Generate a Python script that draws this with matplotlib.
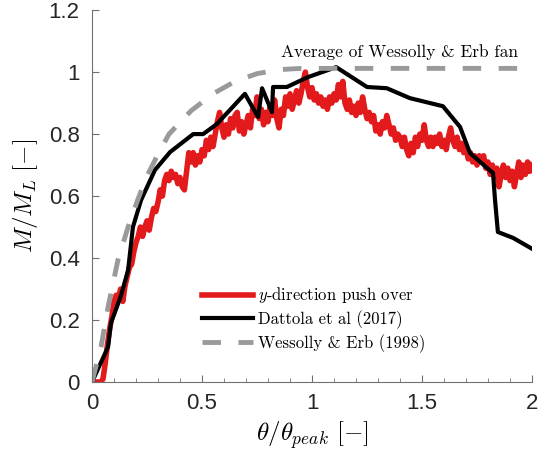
"""
Moment ratio vs rotation ratio - push over test compared with literature
"""
import numpy as np
import matplotlib
matplotlib.use('Agg')
import matplotlib.pyplot as plt
from matplotlib.ticker import MultipleLocator, FuncFormatter

plt.rcParams['mathtext.fontset'] = 'cm'
plt.rcParams['font.family'] = ['Liberation Sans', 'DejaVu Sans']

push_y = [
    0.00, 0.00, 0.00, 0.00, 0.00, 0.01, 0.06, 0.12, 0.17, 0.21,
    0.26, 0.28, 0.27, 0.30, 0.26, 0.31, 0.34, 0.37, 0.38, 0.42,
    0.45, 0.47, 0.50, 0.47, 0.50, 0.52, 0.49, 0.53, 0.56, 0.55,
    0.58, 0.62, 0.60, 0.65, 0.67, 0.65, 0.68, 0.66, 0.67, 0.64,
    0.66, 0.63, 0.62, 0.68, 0.74, 0.71, 0.74, 0.70, 0.73, 0.71,
    0.75, 0.73, 0.78, 0.75, 0.79, 0.76, 0.80, 0.84, 0.87, 0.82,
    0.79, 0.83, 0.80, 0.85, 0.82, 0.86, 0.87, 0.81, 0.84, 0.80,
    0.83, 0.86, 0.82, 0.88, 0.86, 0.92, 0.85, 0.88, 0.83, 0.87,
    0.84, 0.89, 0.86, 0.91, 0.85, 0.82, 0.88, 0.86, 0.92, 0.89,
    0.93, 0.88, 0.91, 0.94, 0.90, 0.93, 0.97, 1.00, 0.95, 0.92,
    0.95, 0.91, 0.93, 0.90, 0.92, 0.89, 0.91, 0.88, 0.92, 0.90,
    0.93, 0.91, 0.96, 0.92, 0.97, 0.90, 0.88, 0.91, 0.87, 0.89,
    0.86, 0.90, 0.87, 0.92, 0.88, 0.85, 0.87, 0.84, 0.86, 0.81,
    0.83, 0.80, 0.84, 0.82, 0.86, 0.83, 0.80, 0.82, 0.78, 0.80,
    0.79, 0.76, 0.79, 0.75, 0.73, 0.77, 0.74, 0.79, 0.76, 0.80,
    0.78, 0.83, 0.78, 0.76, 0.79, 0.76, 0.79, 0.77, 0.80, 0.76,
    0.78, 0.75, 0.79, 0.82, 0.78, 0.76, 0.79, 0.75, 0.77, 0.74,
    0.76, 0.72, 0.74, 0.71, 0.73, 0.70, 0.73, 0.71, 0.73, 0.69,
    0.71, 0.67, 0.70, 0.66, 0.69, 0.63, 0.67, 0.70, 0.66, 0.69,
    0.65, 0.68, 0.63, 0.67, 0.71, 0.66, 0.70, 0.67, 0.71, 0.68,
    0.70,
]
push_x = np.linspace(0, 2, len(push_y))

# Dattola et al (2017)
dattola_x = [0, 0.073, 0.086, 0.13, 0.164, 0.186, 0.223, 0.286, 0.355, 0.46,
             0.505, 0.567, 0.695, 0.755, 0.773, 0.818, 0.823, 0.886, 0.982, 1.11,
             1.25, 1.34, 1.445, 1.595, 1.673, 1.718, 1.823, 1.832, 1.845, 1.914, 2.0]
dattola_y = [0, 0.113, 0.19, 0.275, 0.36, 0.5, 0.587, 0.684, 0.742, 0.80,
             0.80, 0.832, 0.93, 0.855, 0.948, 0.871, 0.952, 0.952, 0.984, 1.016,
             0.952, 0.948, 0.916, 0.89, 0.823, 0.739, 0.674, 0.587, 0.484, 0.465, 0.43]

# Wessolly & Erb (1998)
wess_x = [0, 0.041, 0.073, 0.118, 0.164, 0.209, 0.25, 0.30, 0.35, 0.45,
          0.55, 0.65, 0.75, 0.85, 0.95, 2.0]
wess_y = [0, 0.113, 0.242, 0.394, 0.5, 0.59, 0.665, 0.735, 0.80, 0.875,
          0.93, 0.97, 0.995, 1.008, 1.012, 1.012]

fig = plt.figure(figsize=(5.39, 4.61), dpi=100)
ax = fig.add_axes([0.1707, 0.1714, 0.8163, 0.8066])

ax.plot(push_x, push_y, '-', color='#e31a1c', linewidth=4, label='$y$-direction push over')
ax.plot(dattola_x, dattola_y, '-', color='black', linewidth=3, label='Dattola et al (2017)')
ax.plot(wess_x, wess_y, '--', color='#9a9a9a', linewidth=3.5, dashes=(3.8, 3.6),
        label='Wessolly & Erb (1998)')

ax.text(1.4, 1.065, 'Average of Wessolly & Erb fan', family='cmr10', fontsize=12.5,
        ha='center', va='center')

ax.set_xlim(0, 2)
ax.set_ylim(0, 1.2)
ax.xaxis.set_major_locator(MultipleLocator(0.5))
ax.xaxis.set_minor_locator(MultipleLocator(0.1))
ax.yaxis.set_major_locator(MultipleLocator(0.2))
fmt = FuncFormatter(lambda v, p: f'{v:g}')
ax.xaxis.set_major_formatter(fmt)
ax.yaxis.set_major_formatter(fmt)

for s in ['top', 'right']:
    ax.spines[s].set_visible(False)
for s in ['left', 'bottom']:
    ax.spines[s].set_color('#707070')
    ax.spines[s].set_linewidth(0.8)
ax.tick_params(which='both', direction='in', color='#707070', labelsize=16,
               labelcolor='#262626')
ax.tick_params(which='major', length=5)
ax.tick_params(which='minor', length=3)
ax.tick_params(axis='x', pad=8)
ax.tick_params(axis='y', pad=9)

ax.set_xlabel(r'$\theta/\theta_{peak}\ [-]$', fontsize=18)
ax.set_ylabel(r'$M/M_L\ [-]$', fontsize=18, labelpad=6)

ax.legend(loc='lower left', bbox_to_anchor=(0.216, 0.038), frameon=False,
          prop={'family': 'cmr10', 'size': 12}, handlelength=3.05,
          labelspacing=0.3, handletextpad=0.3)

fig.savefig('out.png', dpi=100)
plt.close(fig)
